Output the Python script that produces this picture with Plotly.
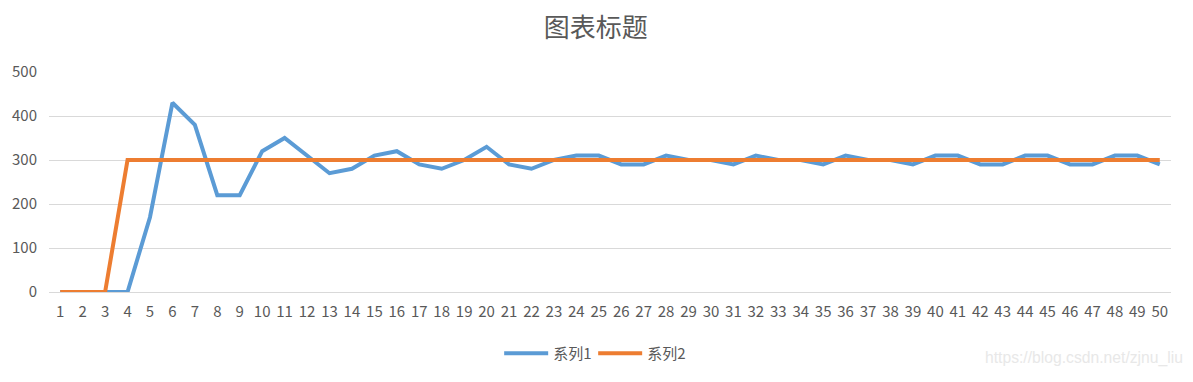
import plotly.graph_objects as go

categories = [str(i) for i in range(1, 51)]
series1 = [0, 0, 0, 0, 170, 430, 380, 220, 220, 320,
           350, 310, 270, 280, 310, 320, 290, 280, 300, 330,
           290, 280, 300, 310, 310, 290, 290, 310, 300, 300,
           290, 310, 300, 300, 290, 310, 300, 300, 290, 310,
           310, 290, 290, 310, 310, 290, 290, 310, 310, 290]
series2 = [0, 0, 0] + [300] * 47
y_ticks = [0, 100, 200, 300, 400, 500]

xs = list(range(1, 51))
fig = go.Figure()
fig.add_trace(go.Scatter(x=xs, y=series1, mode="lines", name="系列1",
                         line=dict(color="#5B9BD5", width=4)))
fig.add_trace(go.Scatter(x=xs, y=series2, mode="lines", name="系列2",
                         line=dict(color="#ED7D31", width=4)))

font_fam = "Noto Sans CJK SC, Open Sans, sans-serif"
# the page body adds an 8px offset, so the figure is sized to fit the window
fig.update_layout(
    width=1185, height=374,
    margin=dict(l=41, r=22, t=64, b=85),
    paper_bgcolor="white", plot_bgcolor="white",
    title=dict(text="图表标题", x=0.496, xanchor="center", xref="container",
               y=0.946, yanchor="middle",
               font=dict(family=font_fam, size=26, color="#595959")),
    font=dict(family=font_fam, color="#595959", size=15),
    showlegend=True,
    legend=dict(orientation="h", x=0.485, xanchor="center", y=-0.28, yanchor="middle",
                font=dict(size=15, color="#595959"), itemwidth=44,
                entrywidth=35, entrywidthmode="pixels"),
    xaxis=dict(range=[0.5, 50.5], tickmode="array", tickvals=xs, ticktext=categories,
               showgrid=False, zeroline=False, showline=False, automargin=False,
               ticks="outside", ticklen=6, tickcolor="rgba(0,0,0,0)",
               tickfont=dict(size=15, color="#595959")),
    yaxis=dict(range=[0, 500], tickvals=y_ticks, showgrid=True, gridcolor="#D9D9D9",
               gridwidth=1, zeroline=True, zerolinecolor="#D9D9D9", zerolinewidth=1,
               automargin=False,
               ticks="outside", ticklen=8, tickcolor="rgba(0,0,0,0)",
               tickfont=dict(size=15, color="#595959")),
    annotations=[dict(text="https://blog.csdn.net/zjnu_liu", xref="paper", yref="paper",
                      x=1.0125, y=-0.298, xanchor="right", yanchor="middle",
                      showarrow=False,
                      font=dict(size=15.7, color="#E8E8E8", family="Liberation Sans"))],
)
fig.write_html("out.html")
